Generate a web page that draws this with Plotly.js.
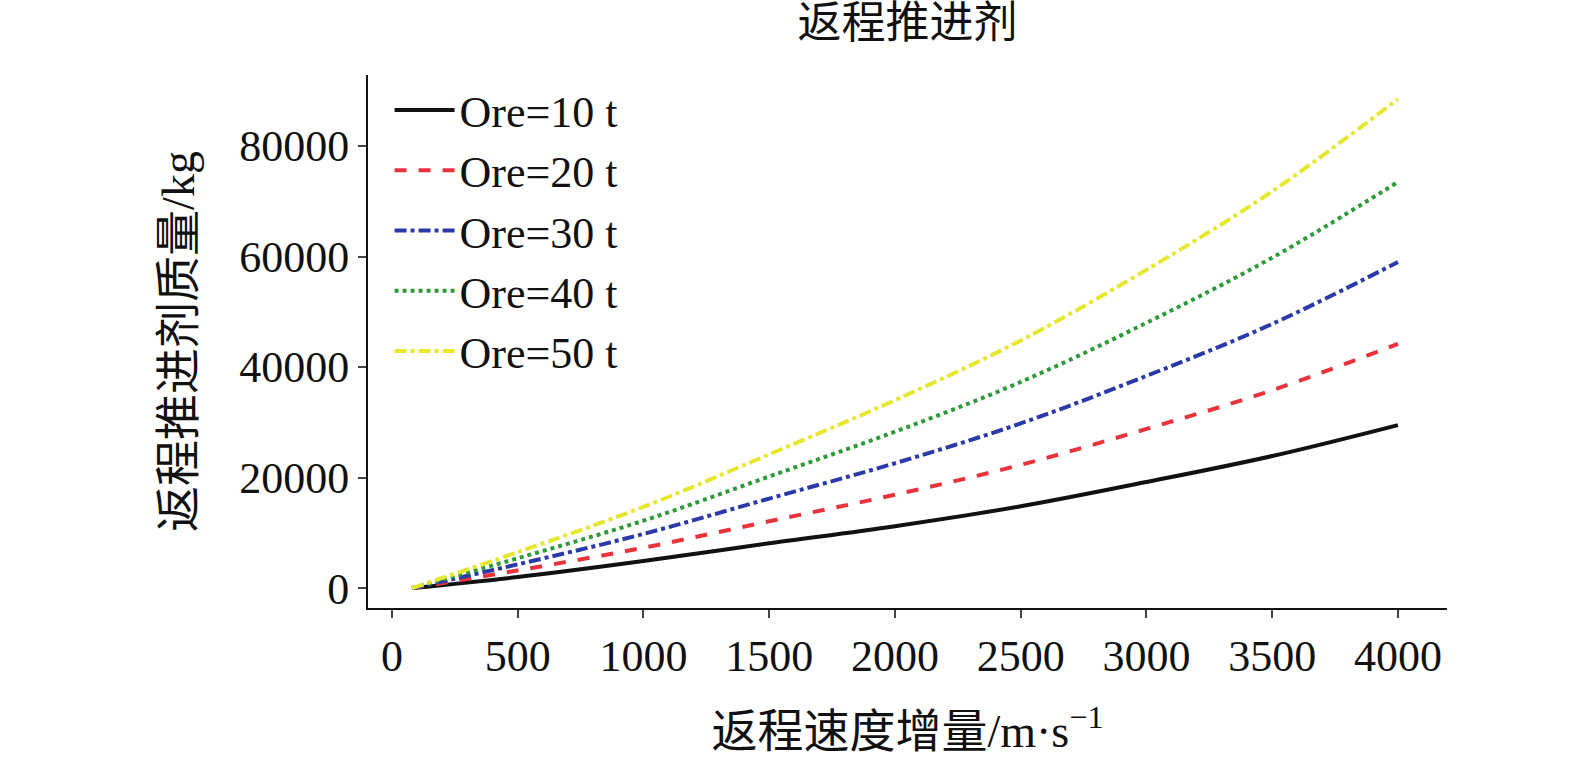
<!DOCTYPE html>
<html><head><meta charset="utf-8">
<script src="https://cdn.plot.ly/plotly-3.0.1.min.js"></script>
<style>body{margin:0}#plot{width:1575px;height:765px}</style>
</head><body><div id="plot"></div>
<script>
var dv=[80,500,1000,1500,2000,2500,3000,3500,4000];
var ore10=[0,2000,4900,8100,11200,14800,19200,23900,29500];
var ore20=[0,3200,7300,12100,16900,22300,28800,35800,44200];
var ore30=[0,4300,9800,16200,22600,29800,38400,47800,59000];
var ore40=[0,5400,12200,20200,28300,37300,48000,59800,73500];
var ore50=[0,6500,14700,24200,34000,44800,57600,71800,88500];
var names=['Ore=10 t','Ore=20 t','Ore=30 t','Ore=40 t','Ore=50 t'];
var yTicks=[0,20000,40000,60000,80000];
var yTickText=['0','20000','40000','60000','80000'];
var series=[ore10,ore20,ore30,ore40,ore50];
var colors=['#111111','#e8323c','#2b3aa8','#2e9a3a','#e6e830'];
var dashes=['solid','dash','dashdot','dot','dashdot'];

var data=[];
for (var i=0;i<series.length;i++){
    data.push({type:'scatter',mode:'lines',x:dv,y:series[i],name:names[i],
        line:{color:colors[i],dash:dashes[i],width:4,shape:'spline'}});
}
var serif='"Liberation Serif","Noto Sans CJK SC",serif';
var layout={
    width:1575,height:765,
    margin:{l:368,r:128,t:75,b:157},
    paper_bgcolor:'white',plot_bgcolor:'white',
    font:{family:serif,size:44,color:'#111'},
    title:{text:'返程推进剂',xref:'paper',x:0.5,xanchor:'center',y:0.99,yanchor:'top',font:{size:44}},
    xaxis:{range:[-95,4195],tickvals:[0,500,1000,1500,2000,2500,3000,3500,4000],
        showgrid:false,zeroline:false,showline:true,linecolor:'#111',linewidth:2,
        ticks:'outside',ticklen:8,tickwidth:2,
        title:{text:'返程速度增量/m·s<sup>−1</sup>',standoff:35,font:{size:46}}},
    yaxis:{range:[-3600,92850],tickvals:yTicks,ticktext:yTickText,
        showgrid:false,zeroline:false,showline:true,linecolor:'#111',linewidth:2,
        ticks:'outside',ticklen:8,tickwidth:2,
        title:{text:'返程推进剂质量/kg',standoff:30,font:{size:46}}},
    legend:{x:0.02,y:1.0,xanchor:'left',yanchor:'top',bgcolor:'rgba(0,0,0,0)',
        font:{size:44},tracegroupgap:0,itemwidth:60}
};
Plotly.newPlot(document.getElementById('plot'),data,layout,{displayModeBar:false});
</script></body></html>
